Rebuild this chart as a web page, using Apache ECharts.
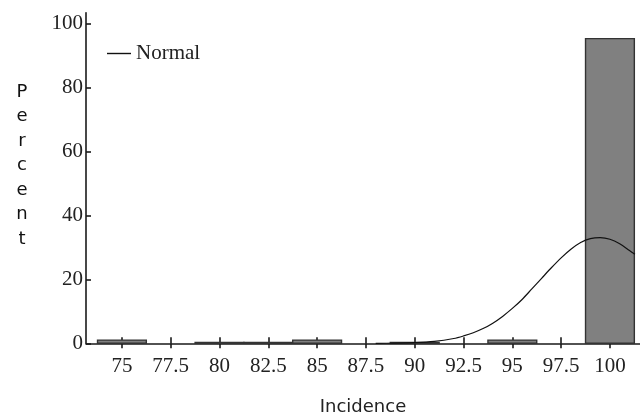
<!DOCTYPE html>
<html>
<head>
<meta charset="utf-8">
<script src="https://cdn.jsdelivr.net/npm/echarts@6/dist/echarts.min.js"></script>
<style>
  html, body { margin: 0; padding: 0; background: #fff; }
  #chart { width: 640px; height: 414px; }
</style>
</head>
<body>
<div id="chart"></div>
<script>
// Histogram bins (centre of each 2.5-wide bin) and their percentages
const binCenters = [75, 80, 82.5, 85, 90, 95, 100];
const binPercent = [1.0, 0.3, 0.3, 1.0, 0.3, 1.0, 95.2];
const binWidth = 2.5;

// Fitted normal curve, sampled along the incidence axis
const curveX = [88, 89, 90, 91, 92, 92.5, 93, 93.5, 94, 94.5, 95, 95.5, 96, 96.5, 97, 97.5, 98, 98.5, 99, 99.5, 100, 100.5, 101, 101.28];
const curveY = [0, 0.05, 0.2, 0.6, 1.5, 2.3, 3.3, 4.6, 6.3, 8.4, 10.9, 13.7, 17.0, 20.3, 23.6, 26.7, 29.4, 31.5, 32.7, 33.0, 32.5, 31.1, 29.0, 27.8];

// Axis tick labels
const xTicks = [75, 77.5, 80, 82.5, 85, 87.5, 90, 92.5, 95, 97.5, 100];
const yTicks = [0, 20, 40, 60, 80, 100];

const X_MIN = 73.16, X_MAX = 101.54, Y_MAX = 103.3;

const serif = '"Liberation Serif", "Times New Roman", serif';
const sans = '"DejaVu Sans", Verdana, sans-serif';

const barData = binCenters.map((c, i) => [c - binWidth / 2, c + binWidth / 2, binPercent[i]]);
const curveData = curveX.map((x, i) => [x, curveY[i]]);

const chart = echarts.init(document.getElementById('chart'), null, { renderer: 'canvas' });

const axisLineStyle = { color: '#1a1a1a', width: 1.6 };

chart.setOption({
  animation: false,
  backgroundColor: '#fff',
  grid: { left: 86, right: 0, top: 12.7, bottom: 70.7, containLabel: false, outerBoundsMode: 'none' },
  legend: {
    data: ['Normal'],
    left: 102,
    top: 38,
    icon: 'rect',
    itemWidth: 24,
    itemHeight: 1.4,
    itemGap: 6,
    textStyle: { fontFamily: serif, fontSize: 21, color: '#222' }
  },
  xAxis: [
    {
      type: 'value',
      min: X_MIN,
      max: X_MAX,
      name: 'Incidence',
      nameLocation: 'middle',
      nameGap: 55,
      nameTextStyle: { fontFamily: sans, fontSize: 18, color: '#222' },
      axisLine: { show: true, lineStyle: axisLineStyle },
      axisTick: { show: true, customValues: xTicks, length: 5, lineStyle: axisLineStyle },
      axisLabel: {
        customValues: xTicks,
        margin: 13,
        fontFamily: serif,
        fontSize: 21,
        color: '#222'
      },
      splitLine: { show: false }
    },
    {
      // inner half of the crossing tick marks
      type: 'value',
      min: X_MIN,
      max: X_MAX,
      position: 'bottom',
      axisLine: { show: false },
      axisTick: { show: true, inside: true, customValues: xTicks, length: 6, lineStyle: axisLineStyle },
      axisLabel: { show: false },
      splitLine: { show: false }
    }
  ],
  yAxis: [
    {
      type: 'value',
      min: 0,
      max: Y_MAX,
      // stacked letters; the blank last line lifts the block toward the upper half
      name: 'P\ne\nr\nc\ne\nn\nt\n ',
      nameLocation: 'middle',
      nameRotate: 0,
      nameGap: 64,
      nameTextStyle: {
        fontFamily: sans, fontSize: 18, color: '#111',
        lineHeight: 24.5, align: 'center', verticalAlign: 'middle'
      },
      axisLine: { show: true, lineStyle: axisLineStyle },
      axisTick: { show: true, inside: true, customValues: yTicks, length: 5, lineStyle: axisLineStyle },
      axisLabel: {
        customValues: yTicks,
        margin: 3,
        padding: [4, 0, 0, 0],
        fontFamily: serif,
        fontSize: 21,
        color: '#222'
      },
      splitLine: { show: false }
    }
  ],
  series: [
    {
      name: 'Percent',
      type: 'custom',
      xAxisIndex: 0,
      yAxisIndex: 0,
      data: barData,
      encode: { x: [0, 1], y: 2 },
      renderItem: function (params, api) {
        const p0 = api.coord([api.value(0), 0]);
        const p1 = api.coord([api.value(1), api.value(2)]);
        return {
          type: 'rect',
          shape: { x: p0[0], y: p1[1], width: p1[0] - p0[0], height: p0[1] - p1[1] },
          style: { fill: '#808080', stroke: '#333', lineWidth: 1.4 }
        };
      },
      z: 1
    },
    {
      name: 'Normal',
      type: 'line',
      xAxisIndex: 0,
      yAxisIndex: 0,
      data: curveData,
      smooth: 0.3,
      showSymbol: false,
      lineStyle: { color: '#111', width: 1.2 },
      itemStyle: { color: '#111' },
      z: 3
    }
  ]
});
</script>
</body>
</html>
